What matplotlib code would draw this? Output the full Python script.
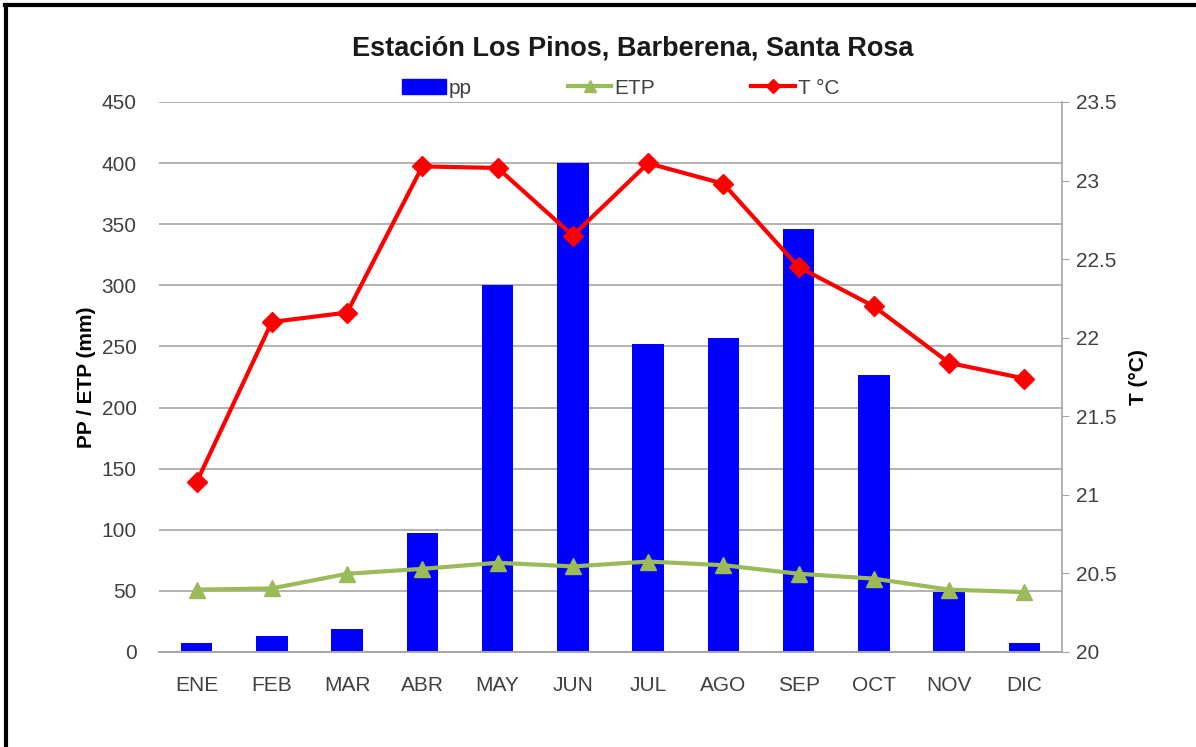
import matplotlib.pyplot as plt
import numpy as np
from matplotlib.lines import Line2D
from matplotlib.patches import Patch

plt.rcParams['font.family'] = ['Liberation Sans', 'DejaVu Sans']

meses = ["ENE", "FEB", "MAR", "ABR", "MAY", "JUN", "JUL", "AGO", "SEP", "OCT", "NOV", "DIC"]
pp = [7, 13, 19, 97, 300, 400, 252, 257, 346, 227, 49, 7]
etp = [51, 52, 64, 68, 73, 70, 74, 71, 64, 60, 51, 49]
temp = [21.08, 22.10, 22.16, 23.09, 23.08, 22.65, 23.11, 22.98, 22.45, 22.20, 21.84, 21.74]

fig = plt.figure(figsize=(11.96, 7.47), dpi=100)
ax = fig.add_axes([0.1329, 0.1272, 0.755, 0.7363])
ax2 = ax.twinx()

x = np.arange(len(meses))
grid_c = "#a6a6a6"
txt_c = "#404040"

ax.bar(x, pp, width=0.42, color="#0000ff", zorder=2)
ax.plot(x, etp, color="#9bbb59", lw=3, marker="^", ms=12, zorder=3)
ax2.plot(x, temp, color="#ff0000", lw=3, marker="D", ms=10, zorder=3)

ax.set_xlim(-0.5, 11.5)
ax.set_ylim(0, 450)
ax.set_yticks(range(0, 451, 50))
ax.yaxis.grid(True, color=grid_c, lw=1.2, zorder=0)
ax.set_axisbelow(True)
ax.set_xticks(x)
ax.set_xticklabels(meses)
ax.tick_params(axis="both", length=0, labelsize=15, colors=txt_c)
ax.tick_params(axis="y", pad=16)
ax.tick_params(axis="x", pad=17)

ax2.set_ylim(20, 23.5)
ax2.set_yticks([20, 20.5, 21, 21.5, 22, 22.5, 23, 23.5])
ax2.set_yticklabels(["20", "20.5", "21", "21.5", "22", "22.5", "23", "23.5"])
ax2.tick_params(axis="y", length=5, color=grid_c, labelsize=15, labelcolor=txt_c, pad=5)

for a in (ax, ax2):
    for s in ("top", "left", "right"):
        a.spines[s].set_visible(False)
    a.spines["bottom"].set_color(grid_c)
    a.spines["bottom"].set_linewidth(1.2)
ax2.spines["right"].set_visible(True)
ax2.spines["right"].set_color(grid_c)
ax2.spines["right"].set_linewidth(1.2)

ax.set_ylabel("PP / ETP (mm)", fontsize=15, fontweight="bold", labelpad=4)
ax2.set_ylabel("T (°C)", fontsize=15, fontweight="bold", labelpad=9)

fig.text(0.529, 0.935, "Estación Los Pinos, Barberena, Santa Rosa",
         ha="center", va="center", fontsize=19.5, fontweight="bold", color="#1a1a1a")

handles = [
    Patch(color="#0000ff"),
    Line2D([], [], color="#9bbb59", lw=3, marker="^", ms=9),
    Line2D([], [], color="#ff0000", lw=3, marker="D", ms=7),
]
fig.legend(handles, ["pp", "ETP", "T °C"], loc="center", bbox_to_anchor=(0.519, 0.882),
           ncol=3, frameon=False, fontsize=15, handlelength=2.1, handletextpad=0.15,
           columnspacing=4.6, labelcolor=txt_c)

# marco superior e izquierdo
fig.add_artist(Line2D([0.004, 1.0], [0.993, 0.993], color="black", lw=3, transform=fig.transFigure))
fig.add_artist(Line2D([0.005, 0.005], [0.0, 0.993], color="black", lw=3, transform=fig.transFigure))

fig.savefig("out.png", dpi=100)
